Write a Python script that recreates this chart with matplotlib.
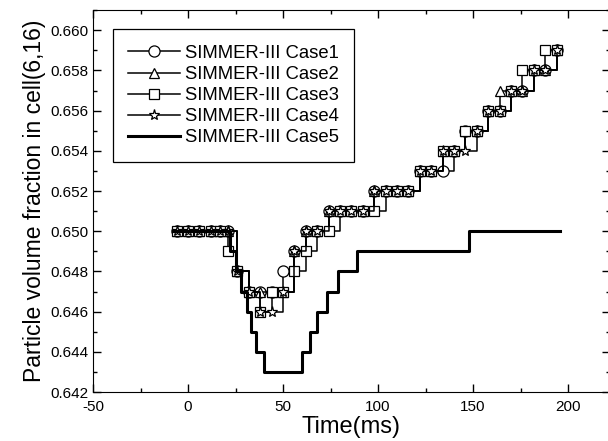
import matplotlib
matplotlib.use("Agg")
import matplotlib.pyplot as plt
from matplotlib.ticker import MultipleLocator, FormatStrFormatter

plt.rcParams['font.family'] = ['Liberation Sans', 'DejaVu Sans']
plt.rcParams['axes.unicode_minus'] = False

# output times of the marker series (ms)
times = [-6, 0, 6, 12, 17, 21, 26, 32, 38, 44, 50, 56, 62, 68, 74, 80, 86, 92, 98,
         104, 110, 116, 122, 128, 134, 140, 146, 152, 158, 164, 170, 176, 182, 188, 194]

case1 = [0.650, 0.650, 0.650, 0.650, 0.650, 0.650, 0.648, 0.647, 0.647, 0.647, 0.648,
         0.649, 0.650, 0.650, 0.651, 0.651, 0.651, 0.651, 0.652, 0.652, 0.652, 0.652,
         0.653, 0.653, 0.653, 0.654, 0.655, 0.655, 0.656, 0.656, 0.657, 0.657, 0.658,
         0.658, 0.659]
case2 = [0.650, 0.650, 0.650, 0.650, 0.650, 0.650, 0.648, 0.647, 0.647, 0.647, 0.647,
         0.649, 0.650, 0.650, 0.651, 0.651, 0.651, 0.651, 0.652, 0.652, 0.652, 0.652,
         0.653, 0.653, 0.654, 0.654, 0.655, 0.655, 0.656, 0.657, 0.657, 0.657, 0.658,
         0.658, 0.659]
case3 = [0.650, 0.650, 0.650, 0.650, 0.650, 0.649, 0.648, 0.647, 0.646, 0.647, 0.647,
         0.648, 0.649, 0.650, 0.650, 0.651, 0.651, 0.651, 0.651, 0.652, 0.652, 0.652,
         0.653, 0.653, 0.654, 0.654, 0.655, 0.655, 0.656, 0.656, 0.657, 0.658, 0.658,
         0.659, 0.659]
case4 = [0.650, 0.650, 0.650, 0.650, 0.650, 0.650, 0.648, 0.647, 0.646, 0.646, 0.647,
         0.649, 0.650, 0.650, 0.651, 0.651, 0.651, 0.651, 0.652, 0.652, 0.652, 0.652,
         0.653, 0.653, 0.654, 0.654, 0.654, 0.655, 0.656, 0.656, 0.657, 0.657, 0.658,
         0.658, 0.659]

# Case5 is a plain step line: (time, value) at each step
case5_t = [-8, 22, 25, 28, 31, 33, 36, 40, 60, 64, 68, 73, 79, 89, 148, 196]
case5_v = [0.650, 0.649, 0.648, 0.647, 0.646, 0.645, 0.644, 0.643, 0.644, 0.645,
           0.646, 0.647, 0.648, 0.649, 0.650, 0.650]

labels = ["SIMMER-III Case1", "SIMMER-III Case2", "SIMMER-III Case3",
          "SIMMER-III Case4", "SIMMER-III Case5"]

fig = plt.figure(figsize=(6.08, 4.41), dpi=100)
ax = fig.add_axes([0.153, 0.111, 0.850, 0.866])

marker_style = dict(color='black', lw=1.1, mfc='white', mec='black', mew=0.9,
                    drawstyle='steps-post')
ax.plot(times, case1, marker='o', ms=8, label=labels[0], **marker_style)
ax.plot(times, case2, marker='^', ms=7, label=labels[1], **marker_style)
ax.plot(times, case3, marker='s', ms=7.5, label=labels[2], **marker_style)
ax.plot(times, case4, marker='*', ms=8, label=labels[3], **marker_style)
ax.plot(case5_t, case5_v, color='black', lw=2.2, drawstyle='steps-post', label=labels[4])

ax.set_xlim(-50, 222)
ax.set_ylim(0.642, 0.661)
ax.xaxis.set_major_locator(MultipleLocator(50))
ax.xaxis.set_minor_locator(MultipleLocator(25))
ax.yaxis.set_major_locator(MultipleLocator(0.002))
ax.yaxis.set_minor_locator(MultipleLocator(0.001))
ax.yaxis.set_major_formatter(FormatStrFormatter('%.3f'))
ax.tick_params(which='both', direction='in', top=True, right=True, labelsize=11)
ax.tick_params(which='major', length=6, width=1)
ax.tick_params(which='minor', length=3, width=1)
ax.tick_params(axis='x', pad=6)

ax.set_xlabel("Time(ms)", fontsize=17, labelpad=1)
ax.set_ylabel("Particle volume fraction in cell(6,16)", fontsize=16.5, labelpad=3)

leg = ax.legend(loc='upper left', bbox_to_anchor=(0.038, 0.95), fontsize=13.3,
                frameon=True, fancybox=False, edgecolor='black', framealpha=1,
                handlelength=2.8, handletextpad=0.25, labelspacing=0.22,
                borderpad=0.85, borderaxespad=0)
leg.get_frame().set_linewidth(0.9)

fig.savefig("out.png", dpi=100)
